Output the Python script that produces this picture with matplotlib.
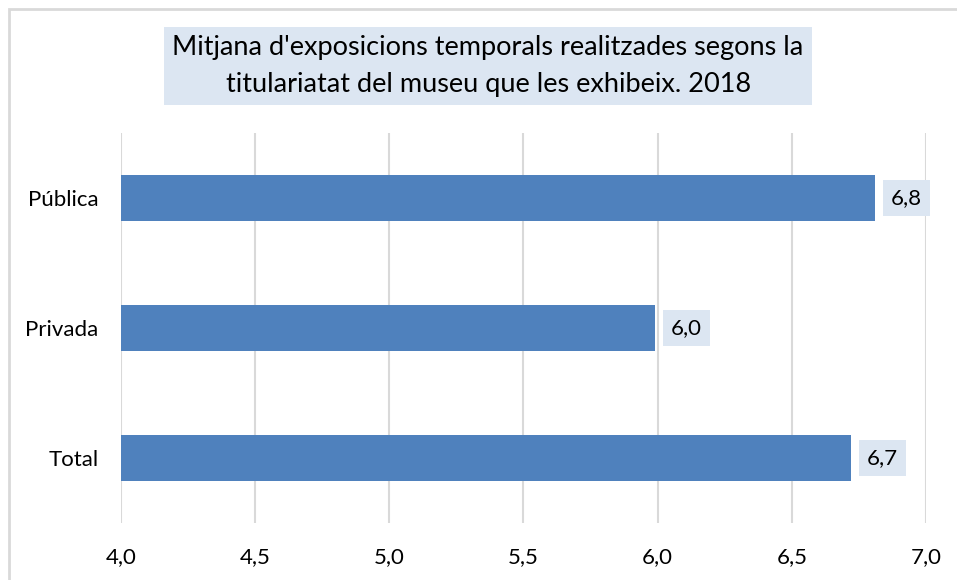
import matplotlib.pyplot as plt
from matplotlib.patches import Rectangle

# data
categories = ['Total', 'Privada', 'Pública']
values = [6.72, 5.99, 6.81]
labels = ['6,7', '6,0', '6,8']
xticks = [4.0, 4.5, 5.0, 5.5, 6.0, 6.5, 7.0]

title = "Mitjana d'exposicions temporals realitzades segons la\ntitulariatat del museu que les exhibeix. 2018"

plt.rcParams['font.family'] = ['Lato', 'DejaVu Sans']

bar_color = '#4f81bd'
box_color = '#dce6f2'
grid_color = '#d9d9d9'

fig = plt.figure(figsize=(9.57, 5.8), dpi=100)
ax = fig.add_axes([0.1264, 0.0983, 0.8412, 0.6724])

# outer border (top and left only visible)
fig.add_artist(Rectangle((9 / 957, -0.1), 1.2, 1 - 9.5 / 580 + 0.1,
                         transform=fig.transFigure, fill=False,
                         edgecolor='#d9d9d9', linewidth=2))

ypos = range(len(categories))
ax.barh(ypos, [v - 4.0 for v in values], left=4.0, height=0.354,
        color=bar_color, zorder=3)

for y, v, lab in zip(ypos, values, labels):
    ax.text(v + 0.06, y, lab, ha='left', va='center', fontsize=16,
            bbox=dict(boxstyle='square,pad=0.35', facecolor=box_color,
                      edgecolor='none'), zorder=4)

ax.set_xlim(4.0, 7.0)
ax.set_ylim(-0.5, 2.5)
ax.set_xticks(xticks)
ax.set_xticklabels([('%.1f' % t).replace('.', ',') for t in xticks], fontsize=16)
ax.set_yticks(list(ypos))
ax.set_yticklabels(categories, fontsize=16)
ax.tick_params(axis='y', length=0, pad=16)
ax.tick_params(axis='x', length=0, pad=17)

ax.grid(axis='x', color=grid_color, linewidth=1.5, zorder=0)
for s in ax.spines.values():
    s.set_visible(False)

fig.text(0.51, 0.886, title, ha='center', va='center', fontsize=19.5,
         linespacing=1.6,
         bbox=dict(boxstyle='square,pad=0.3', facecolor=box_color,
                   edgecolor='none'))

fig.savefig('out.png', dpi=100)
